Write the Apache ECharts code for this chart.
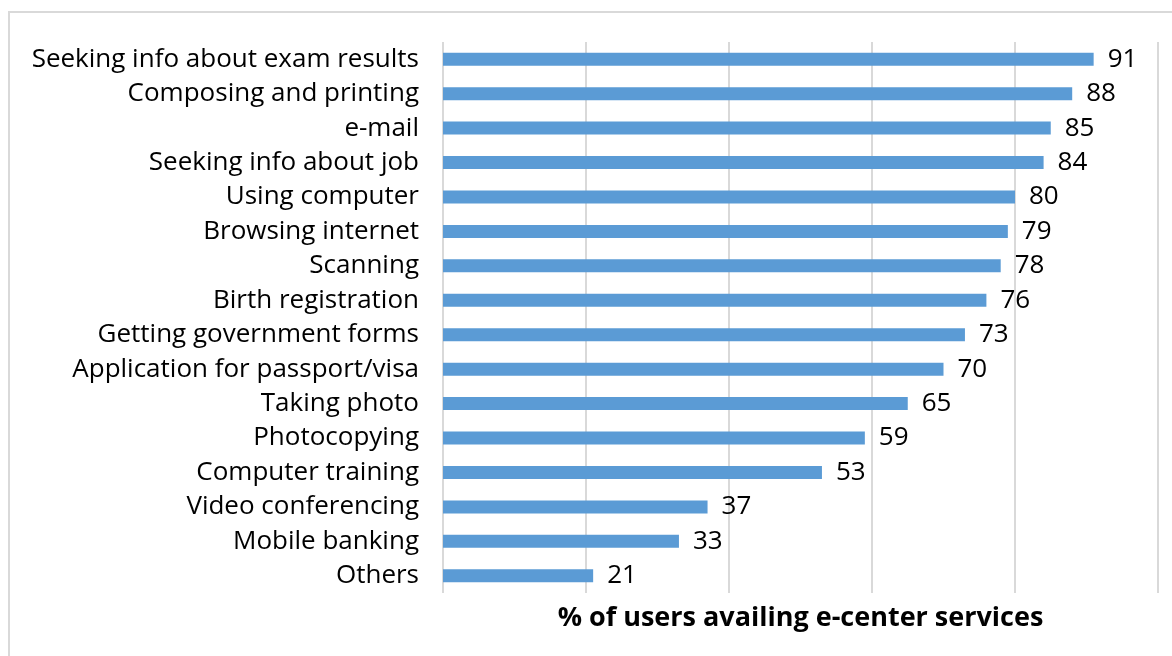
<!DOCTYPE html>
<html>
<head>
<meta charset="utf-8">
<script src="https://cdn.jsdelivr.net/npm/echarts@6/dist/echarts.min.js"></script>
<style>
html,body{margin:0;padding:0;background:#fff;}
#frame{position:absolute;left:8px;top:11px;width:1180px;height:660px;border:2px solid #d9d9d9;box-sizing:border-box;}
#chart{position:absolute;left:0;top:0;width:1172px;height:656px;}
</style>
</head>
<body>
<div id="frame"></div>
<div id="chart"></div>
<script>
const categories = [
  "Seeking info about exam results",
  "Composing and printing",
  "e-mail",
  "Seeking info about job",
  "Using computer",
  "Browsing internet",
  "Scanning",
  "Birth registration",
  "Getting government forms",
  "Application for passport/visa",
  "Taking photo",
  "Photocopying",
  "Computer training",
  "Video conferencing",
  "Mobile banking",
  "Others"
];
const values = [91, 88, 85, 84, 80, 79, 78, 76, 73, 70, 65, 59, 53, 37, 33, 21];
const axisTitle = "% of users availing e-center services";

const chart = echarts.init(document.getElementById('chart'), null, {renderer: 'canvas'});
const FONT = 'Open Sans';
chart.setOption({
  animation: false,
  grid: {left: 443, right: 14, top: 42, bottom: 63, containLabel: false},
  xAxis: {
    type: 'value', min: 0, max: 100, interval: 20,
    axisLabel: {show: false}, axisTick: {show: false}, axisLine: {show: false},
    splitLine: {show: true, lineStyle: {color: '#d9d9d9', width: 2}},
    name: axisTitle, nameLocation: 'middle', nameGap: 10,
    nameTextStyle: {fontFamily: FONT, fontSize: 27, fontWeight: 'bold', color: '#000', verticalAlign: 'top', lineHeight: 30}
  },
  yAxis: {
    type: 'category', data: categories, inverse: true,
    axisLine: {show: false}, axisTick: {show: false},
    axisLabel: {fontFamily: FONT, fontSize: 26, color: '#000', margin: 24}
  },
  series: [{
    type: 'bar', data: values, barWidth: 13,
    itemStyle: {color: '#5b9bd5'},
    label: {show: true, position: 'right', distance: 14, fontFamily: FONT, fontSize: 26, color: '#000'}
  }]
});
</script>
</body>
</html>
